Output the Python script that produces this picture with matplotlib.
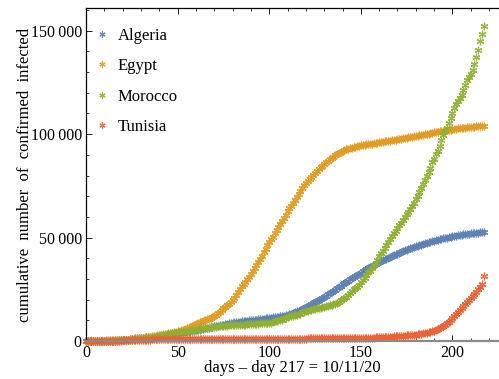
import numpy as np
import matplotlib
matplotlib.use("Agg")
import matplotlib.pyplot as plt
from matplotlib.ticker import MultipleLocator, FuncFormatter

plt.rcParams['font.family'] = ['Liberation Serif', 'DejaVu Serif']
plt.rcParams['mathtext.fontset'] = 'stix'

# Cumulative confirmed cases, one value per day from day 0 (8 March 2020) to day 217 (11 October 2020)
algeria = [
    17, 20, 20, 20, 24, 26, 37, 48, 54, 60, 74, 87, 90, 139, 201, 230, 264, 302, 367, 409, 454, 511, 584, 716,
    847, 986, 1171, 1251, 1320, 1423, 1468, 1572, 1666, 1761, 1825, 1914, 1983, 2070, 2160, 2268, 2418, 2534,
    2629, 2718, 2811, 2910, 3007, 3127, 3256, 3382, 3517, 3649, 3848, 4006,
    4154, 4295, 4474, 4648, 4838, 4997, 5182, 5369, 5558, 5723, 5891, 6067, 6253, 6442, 6629, 6821, 7019, 7201,
    7377, 7542, 7728, 7918, 8113, 8306, 8503, 8697, 8857, 8997, 9134, 9267, 9394,
    9513, 9626, 9733, 9831, 9935, 10050, 10154, 10265, 10382, 10484, 10589, 10698, 10810, 10919, 11031, 11147,
    11268, 11385, 11504, 11631, 11771, 11920, 12076, 12248, 12445, 12685, 12968, 13273, 13571, 13907,
    14272, 14657, 15070, 15500, 15941, 16404, 16879, 17348, 17808, 18242, 18712, 19195, 19689, 20216, 20770,
    21355, 21948, 22549, 23084, 23691, 24278, 24872, 25484, 26159, 26764, 27357, 27973, 28615, 29229, 29831, 30394,
    30950, 31465, 31972, 32504, 33055, 33626, 34155, 34693, 35160, 35712, 36204, 36699, 37187, 37664, 38133,
    38583, 39025, 39444, 39847, 40258, 40667, 41068, 41460, 41858, 42228, 42619, 43016, 43403, 43781, 44146, 44494,
    44833, 45158, 45469, 45773, 46071, 46364, 46653, 46938, 47216, 47488, 47752, 48007, 48254, 48496, 48734,
    48966, 49194, 49413, 49623, 49826, 50023, 50214, 50400, 50579, 50754, 50914, 51067, 51213, 51368, 51530,
    51650, 51770, 51880, 51995, 52105, 52210, 52300, 52395, 52480, 52560, 52650,
]

egypt = [
    55, 59, 59, 60, 67, 80, 109, 110, 150, 196, 196, 256, 285, 294, 327, 366, 402, 456, 495, 536, 576, 609, 656, 710,
    779, 865, 985, 1070, 1173, 1322, 1450, 1560, 1699, 1794, 1939, 2065, 2190, 2350, 2505, 2673, 2844, 3032,
    3144, 3333, 3490, 3659, 3891, 4092, 4319, 4534, 4782, 5042, 5268, 5537,
    5895, 6193, 6465, 6813, 7201, 7588, 7981, 8476, 8964, 9400, 9746, 10093, 10431, 10829, 11228, 11719, 12229,
    12764, 13484, 14229, 15003, 15786, 16513, 17265, 17967, 18756, 19666, 20793, 22082, 23449, 24985,
    26384, 27536, 28615, 29767, 31115, 32612, 34079, 35444, 36829, 38284, 39726, 41303, 42980, 44598, 46289,
    47856, 49219, 50437, 52211, 53758, 55233, 56809, 58141, 59561, 61130, 62755, 64084, 65188, 66754, 68311,
    69814, 71299, 72711, 74035, 75253, 76222, 77279, 78304, 79254, 80235, 81158, 82070, 83001, 83930, 84843,
    85771, 86474, 87172, 87775, 88402, 89078, 89745, 90413, 91072, 91410, 91860, 92250, 92620, 92930, 93240, 93530,
    93790, 93985, 94190, 94372, 94541, 94703, 94862, 95010, 95163, 95318, 95459, 95611, 95760, 95902, 96057,
    96199, 96348, 96503, 96641, 96790, 96938, 97090, 97232, 97381, 97530, 97675, 97828, 97967, 98121, 98270, 98418,
    98560, 98730, 98905, 99080, 99250, 99430, 99600, 99780, 99955, 100130, 100300, 100475, 100640, 100810, 100975,
    101140, 101300, 101460, 101615, 101770, 101920, 102070, 102210, 102350, 102490, 102620, 102750, 102870, 102990, 103100,
    103210, 103320, 103425, 103520, 103610, 103695, 103775, 103850, 103920, 103985, 104050,
]

morocco = [
    2, 2, 2, 5, 6, 7, 17, 28, 29, 38, 49, 63, 77, 96, 115, 143, 170, 225, 275, 345, 402, 479, 556, 617,
    654, 708, 791, 919, 1021, 1120, 1184, 1275, 1374, 1448, 1545, 1661, 1763, 1888, 2024, 2283, 2564, 2685,
    2855, 3046, 3209, 3446, 3568, 3758, 3897, 4065, 4120, 4252, 4321, 4423,
    4569, 4729, 4903, 5053, 5219, 5408, 5548, 5711, 5910, 6063, 6281, 6418, 6512, 6607, 6652, 6741, 6870, 6952,
    7023, 7133, 7211, 7332, 7406, 7433, 7532, 7577, 7601, 7643, 7714, 7780, 7807,
    7833, 7866, 7922, 8003, 8071, 8151, 8224, 8302, 8437, 8455, 8508, 8537, 8610, 8692, 8793, 8885, 8931, 9074,
    9613, 9839, 9977, 10172, 10344, 10907, 11338, 11633, 11877, 12052, 12248, 12533,
    12636, 12969, 13288, 13822, 14215, 14379, 14607, 14771, 15079, 15328, 15542, 15745, 15936, 16097, 16262,
    16545, 16726, 17015, 17236, 17562, 17742, 17962, 18264, 18834, 19645, 20278, 20887, 21387, 22213, 23259, 24322,
    25015, 25537, 26196, 27217, 28500, 29644, 30662, 32007, 33237, 34063, 35195, 36694, 37935, 39241, 41017,
    42489, 43558, 44803, 46313, 47638, 49247, 50812, 52349, 53252, 54528, 55864, 57085, 58489, 60056, 61399, 62590,
    63781, 65453, 66855, 68605, 70160, 71855, 73780, 75721, 77878, 79767, 81815, 83757, 86686, 88203, 90324,
    92016, 94504, 97264, 99816, 101743, 103119, 105346, 107743, 110099, 112522, 114547, 116108, 117685, 119107, 121183,
    123653, 126044, 127801, 129306, 131222, 133966, 137500, 140900, 144900, 148600, 152300,
]

tunisia = [
    2, 2, 5, 7, 7, 16, 18, 18, 20, 24, 29, 39, 54, 60, 75, 89, 114, 173, 197, 227, 278, 312, 312, 394,
    423, 455, 495, 553, 574, 596, 623, 628, 643, 671, 685, 707, 726, 747, 780, 822, 864, 866, 879, 884,
    909, 918, 922, 939, 949, 967, 967, 975, 975, 994,
    998, 1009, 1013, 1018, 1022, 1025, 1026, 1030, 1032, 1032, 1032, 1032, 1032, 1035, 1037, 1037, 1043, 1044,
    1045, 1045, 1046, 1048, 1048, 1051, 1051, 1051, 1051, 1051, 1068, 1071, 1076,
    1077, 1084, 1086, 1087, 1087, 1087, 1087, 1087, 1087, 1087, 1091, 1093, 1094, 1110, 1110, 1125, 1128, 1132,
    1132, 1146, 1148, 1156, 1157, 1157, 1159, 1160, 1168, 1172, 1174, 1175,
    1178, 1181, 1186, 1188, 1199, 1205, 1221, 1231, 1240, 1245, 1263, 1284, 1299, 1319, 1327, 1327, 1336, 1344,
    1352, 1370, 1381, 1389, 1394, 1432, 1455, 1455, 1455, 1474, 1489, 1504, 1521,
    1535, 1535, 1535, 1584, 1598, 1610, 1623, 1642, 1642, 1642, 1665, 1688, 1722, 1749, 1794, 1826, 1875, 1917,
    1968, 2031, 2087, 2152, 2206, 2284, 2351, 2416, 2493, 2557, 2633, 2698, 2784,
    2861, 2953, 3038, 3142, 3251, 3368, 3502, 3648, 3811, 3987, 4193, 4408, 4662, 4938, 5300, 5700, 6150, 6650,
    7250, 7900, 8600, 9350, 10150, 11000, 11900, 12850, 13850, 14900, 16000, 17100,
    18100, 19000, 19900, 20800, 21800, 22700, 23800, 24900, 26100, 27400, 31300,
]

countries = ["Algeria", "Egypt", "Morocco", "Tunisia"]
colors = ["#5E81B5", "#E19C24", "#8FB032", "#EB6235"]
series = [algeria, egypt, morocco, tunisia]

fig = plt.figure(figsize=(4.99, 3.79), dpi=100)
ax = fig.add_axes([86 / 499, 38 / 379, 413 / 499, 333 / 379])

for name, col, vals in zip(countries, colors, series):
    days = np.arange(len(vals))
    ax.plot(days, vals, linestyle="none", marker=(6, 2, 0), markersize=5.5,
            markeredgewidth=0.9, color=col, alpha=0.9, label=name, clip_on=False)

ax.set_xlim(0, 225.4)
ax.set_ylim(0, 161000)

ax.xaxis.set_major_locator(MultipleLocator(50))
ax.xaxis.set_minor_locator(MultipleLocator(10))
ax.yaxis.set_major_locator(MultipleLocator(50000))
ax.yaxis.set_minor_locator(MultipleLocator(10000))
ax.yaxis.set_major_formatter(FuncFormatter(lambda v, p: f"{int(v):,}".replace(",", "\u2009")))

ax.tick_params(which="both", direction="in", top=True, bottom=True, left=True, right=False,
               labelsize=11.5, colors="#222222", labelcolor="black")
ax.tick_params(which="major", length=4.5, width=0.7, pad=3)
ax.tick_params(which="minor", length=2.5, width=0.6)

ax.spines["right"].set_visible(False)
ax.spines["left"].set_linewidth(0.9)
ax.spines["top"].set_linewidth(0.9)
ax.spines["bottom"].set_color("#8a8a8a")
ax.spines["bottom"].set_linewidth(1.6)

ax.set_xlabel("days \u2013 day 217 = 10/11/20", fontsize=12, labelpad=-0.5)
ax.set_ylabel("cumulative  number  of  confirmed  infected", fontsize=12, labelpad=-2)

leg = ax.legend(loc="upper left", bbox_to_anchor=(0.019, 0.94), frameon=False, fontsize=12,
                handlelength=1.0, handletextpad=0.45, labelspacing=0.86, borderaxespad=0,
                borderpad=0, markerscale=0.8, numpoints=1)

fig.savefig("out.png", dpi=100, facecolor="white")
